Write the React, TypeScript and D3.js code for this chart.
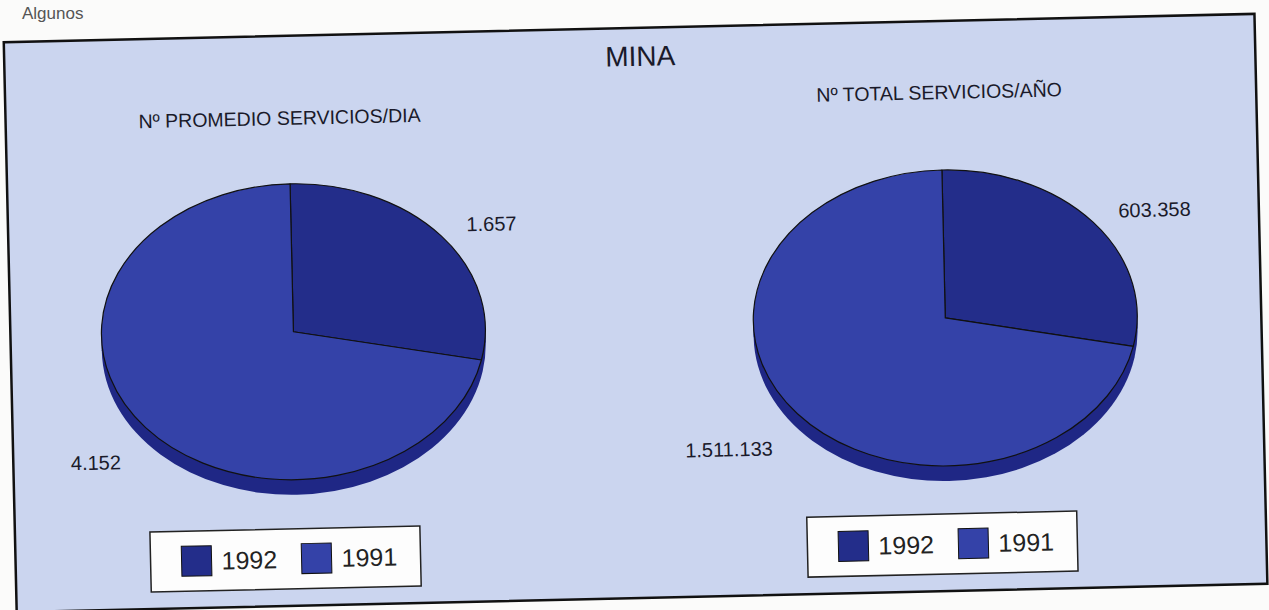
import React, { useEffect, useRef } from "react";
import * as d3 from "d3";

// MINA - servicios 1992 vs 1991
const years = ["1992", "1991"];
const perDay = [1657, 4152];
const perDayLabels = ["1.657", "4.152"];
const perYear = [603358, 1511133];
const perYearLabels = ["603.358", "1.511.133"];
const chartTitle = "MINA";
const pieTitles = ["Nº PROMEDIO SERVICIOS/DIA", "Nº TOTAL SERVICIOS/AÑO"];

const colors: Record<string, string> = {
  "1992": "#232d8a",
  "1991": "#3442a8",
};
const sideColor = "#1f2785";

const font = "'Liberation Sans', Arial, Helvetica, sans-serif";

export default function App() {
  const ref = useRef<SVGSVGElement>(null);

  useEffect(() => {
    const svg = d3.select(ref.current);
    svg.selectAll("*").remove();

    const width = 1269;
    const height = 610;

    svg
      .append("rect")
      .attr("width", width)
      .attr("height", height)
      .attr("fill", "#fbfbfa");

    // heading above the frame (mostly cut off in the scan)
    svg
      .append("text")
      .attr("x", 22)
      .attr("y", 19)
      .text("Algunos")
      .style("font-family", font)
      .style("font-size", "17px")
      .attr("fill", "#555");

    // the scanned page is slightly tilted
    const g = svg.append("g").attr("transform", "rotate(-1.3, 635, 310)");

    g.append("rect")
      .attr("x", 10)
      .attr("y", 28)
      .attr("width", 1251)
      .attr("height", 570)
      .attr("fill", "#cbd5ef")
      .attr("stroke", "#111")
      .attr("stroke-width", 2.5);

    g.append("text")
      .attr("x", 646)
      .attr("y", 66)
      .attr("text-anchor", "middle")
      .text(chartTitle)
      .style("font-family", font)
      .style("font-size", "28px")
      .attr("fill", "#1a1a2a");

    const rx = 192;
    const ry = 148;
    const depth = 15;

    const pies = [
      { cx: 293, cy: 324, values: perDay, labels: perDayLabels, title: pieTitles[0], tx: 284, ty: 117, lx: 280 },
      { cx: 945, cy: 325, values: perYear, labels: perYearLabels, title: pieTitles[1], tx: 944, ty: 106, lx: 937 },
    ];

    const pie = d3.pie<number>().sort(null).value((d) => d);
    const arc = d3.arc<d3.PieArcDatum<number>>().innerRadius(0).outerRadius(rx);

    pies.forEach((p) => {
      g.append("text")
        .attr("x", p.tx)
        .attr("y", p.ty)
        .attr("text-anchor", "middle")
        .text(p.title)
        .style("font-family", font)
        .style("font-size", "19.5px")
        .attr("fill", "#1a1a2a");

      const pg = g.append("g").attr("transform", `translate(${p.cx},${p.cy})`);

      // side of the disc
      pg.append("ellipse")
        .attr("cx", 0)
        .attr("cy", depth)
        .attr("rx", rx)
        .attr("ry", ry)
        .attr("fill", sideColor);
      pg.append("rect")
        .attr("x", -rx)
        .attr("y", 0)
        .attr("width", rx * 2)
        .attr("height", depth)
        .attr("fill", sideColor);

      const arcs = pie(p.values);

      pg.append("g")
        .attr("transform", `scale(1,${ry / rx})`)
        .selectAll("path")
        .data(arcs)
        .enter()
        .append("path")
        .attr("d", arc)
        .attr("fill", (d, i) => colors[years[i]])
        .attr("stroke", "#111")
        .attr("stroke-width", 1.2)
        .attr("vector-effect", "non-scaling-stroke")
        .attr("stroke-linejoin", "round");

      arcs.forEach((d, i) => {
        const mid = (d.startAngle + d.endAngle) / 2;
        const s = Math.sin(mid);
        const c = Math.cos(mid);
        const x = s * rx * 1.17;
        const y = -c * ry * 1.12 + (c < 0 ? depth + 8 : 0);
        pg.append("text")
          .attr("x", x)
          .attr("y", y + 7)
          .attr("text-anchor", s >= 0 ? "start" : "end")
          .text(p.labels[i])
          .style("font-family", font)
          .style("font-size", "20px")
          .attr("fill", "#1a1a2a");
      });

      // legend
      const lw = 270;
      const lh = 60;
      const lg = g
        .append("g")
        .attr("transform", `translate(${p.lx - lw / 2},${551 - lh / 2})`);
      lg.append("rect")
        .attr("width", lw)
        .attr("height", lh)
        .attr("fill", "#fdfdfd")
        .attr("stroke", "#222")
        .attr("stroke-width", 1.5);

      const items = lg
        .selectAll(".legend-item")
        .data(years)
        .enter()
        .append("g")
        .attr("class", "legend-item")
        .attr("transform", (d, i) => `translate(${31 + i * 120}, ${lh / 2})`);

      items
        .append("rect")
        .attr("y", -15)
        .attr("width", 30)
        .attr("height", 30)
        .attr("fill", (d) => colors[d])
        .attr("stroke", "#111")
        .attr("stroke-width", 1);

      items
        .append("text")
        .attr("x", 40)
        .attr("y", 9)
        .text((d) => d)
        .style("font-family", font)
        .style("font-size", "25px")
        .attr("fill", "#222");
    });
  }, []);

  return (
    <svg
      ref={ref}
      width={1269}
      height={610}
      style={{ position: "absolute", left: 0, top: 0 }}
    ></svg>
  );
}
